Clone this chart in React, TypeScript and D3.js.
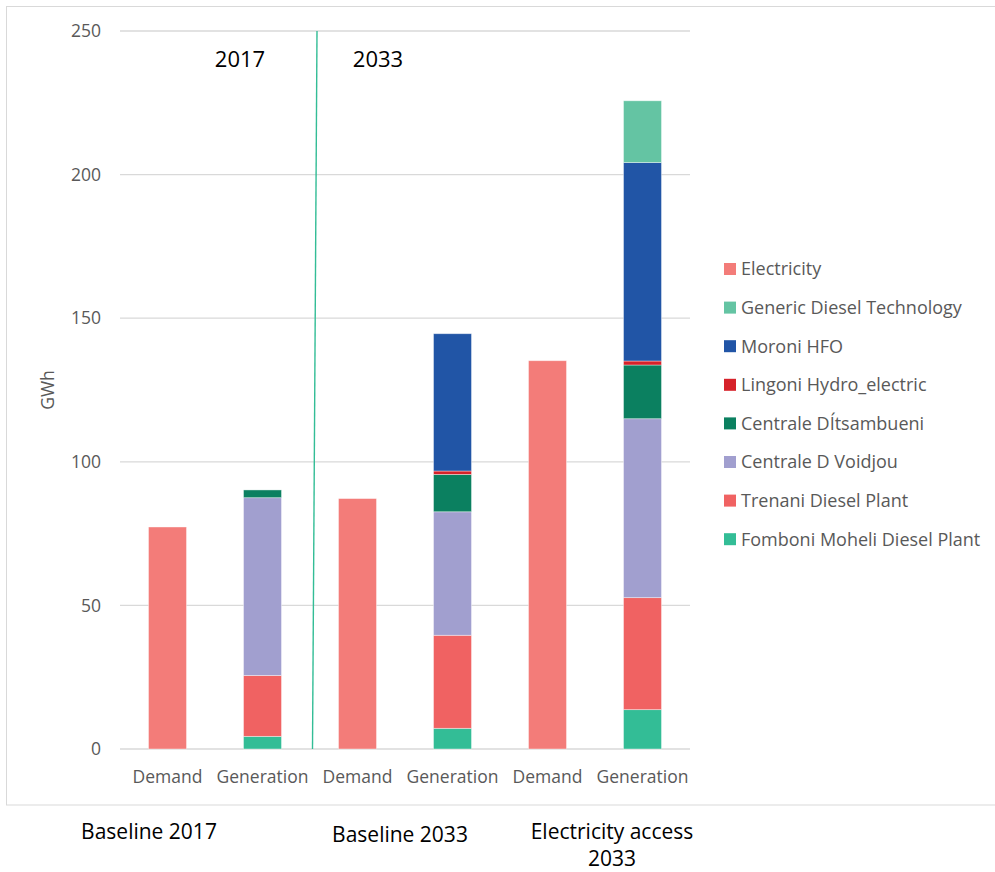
import React from "react";
import * as d3 from "d3";

const categories = ["Demand", "Generation", "Demand", "Generation", "Demand", "Generation"];
const groupLabels = [["Baseline 2017"], ["Baseline 2033"], ["Electricity access", "2033"]];
const yTicks = [0, 50, 100, 150, 200, 250];

const electricity = [77.3, 0, 87.2, 0, 135.2, 0];
const fomboni = [0, 4.4, 0, 7.2, 0, 13.7];
const trenani = [0, 21.2, 0, 32.4, 0, 39.0];
const voidjou = [0, 61.9, 0, 43.0, 0, 62.3];
const ditsambueni = [0, 2.7, 0, 13.0, 0, 18.7];
const lingoni = [0, 0, 0, 1.2, 0, 1.4];
const moroni = [0, 0, 0, 47.8, 0, 69.1];
const genericDiesel = [0, 0, 0, 0, 0, 21.5];

const seriesNames = [
  "Electricity",
  "Generic Diesel Technology",
  "Moroni HFO",
  "Lingoni Hydro_electric",
  "Centrale DÍtsambueni",
  "Centrale D Voidjou",
  "Trenani Diesel Plant",
  "Fomboni Moheli Diesel Plant",
];
const seriesColors = ["#F37C79", "#64C4A3", "#2155A6", "#D6222A", "#0B8060", "#A19FCF", "#F06262", "#33BD96"];
const seriesValues = [electricity, genericDiesel, moroni, lingoni, ditsambueni, voidjou, trenani, fomboni];

const W = 995;
const H = 872;
const left = 120;
const right = 690;
const top = 31;
const bottom = 749;

export default function App() {
  const x = d3.scaleBand<number>().domain(categories.map((_, i) => i)).range([left, right]).paddingInner(0.6).paddingOuter(0.3);
  const y = d3.scaleLinear().domain([0, 250]).range([bottom, top]);

  // stacking order bottom -> top (reverse of legend order, excluding Electricity which is its own bar)
  const stackKeys = [7, 6, 5, 4, 3, 2, 1, 0];
  const rows = categories.map((_, i) => {
    const r: Record<string, number> = {};
    stackKeys.forEach((k) => (r[String(k)] = seriesValues[k][i]));
    return r;
  });
  const stack = d3.stack<Record<string, number>>().keys(stackKeys.map(String));
  const layers = stack(rows);

  const font = "'Open Sans', 'Noto Sans', sans-serif";
  const grey = "#595959";

  const boundary = ((x(1) as number) + x.bandwidth() + (x(2) as number)) / 2;

  return (
    <svg width={W} height={H} style={{ position: "absolute", left: 0, top: 0, background: "#fff" }} fontFamily={font}>
      <rect x={6.5} y={6.5} width={W + 10} height={798.5} fill="#fff" stroke="#D9D9D9" strokeWidth={1} />
      {yTicks.map((t) => (
        <g key={t}>
          <line x1={left} x2={right} y1={y(t)} y2={y(t)} stroke="#D9D9D9" strokeWidth={1.3} />
          <text x={101} y={y(t)} dy="0.35em" textAnchor="end" fontSize={17.5} fill={grey}>
            {t}
          </text>
        </g>
      ))}
      <text transform={`translate(54,${(top + bottom) / 2})`} textAnchor="middle" fontSize={17.5} fill={grey}>
        <tspan transform="rotate(-90)" />
      </text>
      <text transform={`translate(54,${(top + bottom) / 2}) rotate(-90)`} textAnchor="middle" fontSize={17.5} fill={grey}>
        GWh
      </text>
      {layers.map((layer) => {
        const k = Number(layer.key);
        return (
          <g key={layer.key} fill={seriesColors[k]}>
            {layer.map((d, i) =>
              d[1] - d[0] > 0 ? (
                <rect
                  key={i}
                  x={x(i)}
                  width={x.bandwidth()}
                  y={y(d[1])}
                  height={y(d[0]) - y(d[1])}
                  stroke="#fff"
                  strokeOpacity={0.5}
                  strokeWidth={0.8}
                />
              ) : null
            )}
          </g>
        );
      })}
      <line x1={boundary + 7} y1={y(250)} x2={boundary + 2.5} y2={y(0)} stroke="#33BD96" strokeWidth={1.4} />
      <text x={boundary - 70} y={67} textAnchor="middle" fontSize={22} fill="#000">
        2017
      </text>
      <text x={boundary + 68} y={67} textAnchor="middle" fontSize={22} fill="#000">
        2033
      </text>
      {categories.map((c, i) => (
        <text key={i} x={(x(i) as number) + x.bandwidth() / 2} y={783} textAnchor="middle" fontSize={17.5} fill={grey}>
          {c}
        </text>
      ))}
      {groupLabels.map((lines, g) => {
        const cx = ((x(g * 2) as number) + (x(g * 2 + 1) as number) + x.bandwidth()) / 2;
        const offsets = [-66, -5, 17];
        const baseY = [839, 842, 839];
        return (
          <text key={g} textAnchor="middle" fontSize={21} fill="#000">
            {lines.map((l, j) => (
              <tspan key={j} x={cx + offsets[g]} y={baseY[g] + j * 27}>
                {l}
              </tspan>
            ))}
          </text>
        );
      })}
      {seriesNames.map((n, i) => (
        <g key={n} transform={`translate(724,${269 + i * 38.6})`}>
          <rect x={0} y={-6} width={12} height={12} fill={seriesColors[i]} />
          <text x={17} y={0} dy="0.35em" fontSize={18} fill={grey}>
            {n}
          </text>
        </g>
      ))}
    </svg>
  );
}
